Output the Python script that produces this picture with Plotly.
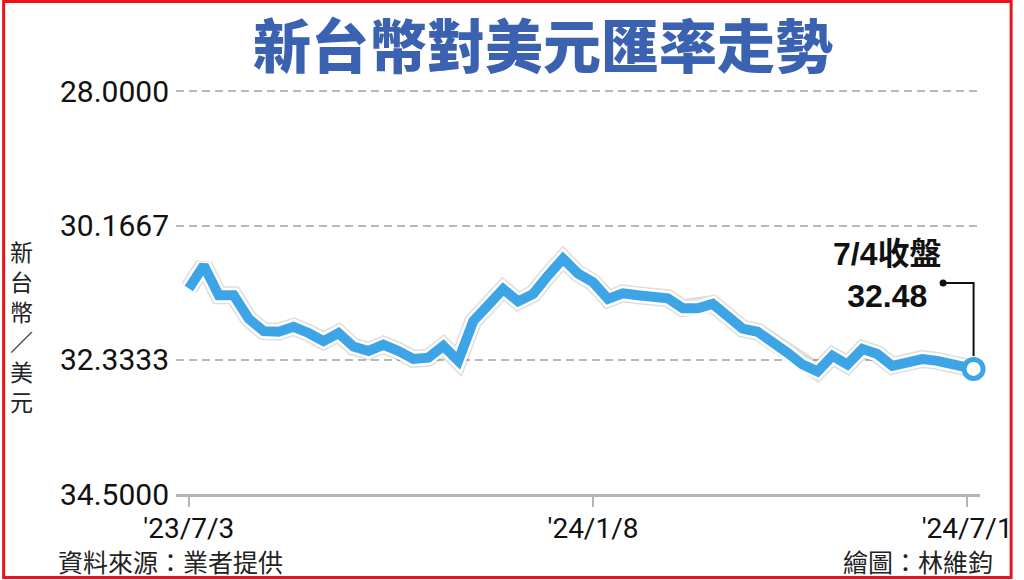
import pandas as pd
import plotly.graph_objects as go

# weekly closes, NT$ per US$
dates = pd.date_range('2023-07-03', '2024-07-01', freq='7D').strftime('%Y-%m-%d').tolist() + ['2024-07-04']
rates = [31.18, 30.81, 31.29, 31.29, 31.67, 31.87, 31.88, 31.80, 31.90, 32.03,
         31.90, 32.12, 32.19, 32.09, 32.19, 32.32, 32.30, 32.11, 32.35, 31.71,
         31.45, 31.19, 31.39, 31.27, 30.97, 30.70, 30.94, 31.08, 31.35, 31.26,
         31.29, 31.31, 31.34, 31.50, 31.50, 31.43, 31.63, 31.83, 31.88, 32.03,
         32.22, 32.41, 32.52, 32.27, 32.41, 32.16, 32.24, 32.43, 32.36, 32.32,
         32.35, 32.40, 32.45, 32.48]

y_ticks = [28.0, 30.1667, 32.3333, 34.5]
y_labels = ['28.0000', '30.1667', '32.3333', '34.5000']
x_ticks = ['2023-07-03', '2024-01-08', '2024-07-01']
x_labels = ["'23/7/3", "'24/1/8", "'24/7/1"]

title = '新台幣對美元匯率走勢'
y_title = '新台幣／美元'
end_label = '7/4收盤'
source = '資料來源：業者提供'
credit = '繪圖：林維鈞'

BLUE = '#3da5e6'
CJK = 'Noto Sans CJK TC'

W, H = 1024, 580
L, R, T, B = 176, 34, 89, 86
PW = W - L - R
PH = H - T - B


def px_x(p):
    return (p - L) / PW


def px_y(p):
    return (H - B - p) / PH


def note(x, y, text, size, xanchor='center', **font):
    fig.add_annotation(x=px_x(x), y=px_y(y), xref='paper', yref='paper', showarrow=False,
                       xanchor=xanchor, yanchor='middle', text=text,
                       font=dict(family=CJK, size=size, color=font.pop('color', '#222'), **font))


fig = go.Figure()
# soft shadow + white halo under the line
fig.add_trace(go.Scatter(x=dates, y=rates, mode='lines', hoverinfo='skip',
                         line=dict(color='rgba(0,0,0,0.13)', width=18)))
fig.add_trace(go.Scatter(x=dates, y=rates, mode='lines', hoverinfo='skip',
                         line=dict(color='white', width=15)))
fig.add_trace(go.Scatter(x=dates, y=rates, mode='lines',
                         line=dict(color=BLUE, width=10)))
fig.add_trace(go.Scatter(x=dates[-1:], y=rates[-1:], mode='markers', cliponaxis=False,
                         marker=dict(size=19, color='white', line=dict(color=BLUE, width=5))))

fig.update_xaxes(type='date', range=['2023-06-27 00:00', '2024-07-07 00:00'],
                 tickvals=x_ticks, ticktext=x_labels, showgrid=False, zeroline=False,
                 showline=True, linecolor='#b5b5b5', linewidth=3,
                 ticks='outside', ticklen=10, tickwidth=2, tickcolor='#b5b5b5',
                 ticklabelstandoff=-3,
                 tickfont=dict(family='Roboto', size=28, color='#111'))
fig.update_yaxes(range=[34.5, 27.96], tickvals=y_ticks, ticktext=y_labels,
                 showgrid=True, gridcolor='#b8b8b8', gridwidth=2, griddash='8px,5px',
                 zeroline=False, showline=False, ticks='', ticklabelstandoff=6,
                 tickfont=dict(family='Roboto', size=30, color='#111'))

note(548, 43, title, 58, color='#3a62b0', weight=900)
note(20, 326, '<br>'.join(y_title), 23)
note(55, 561, source, 25, xanchor='left')
note(1005, 561, credit, 25, xanchor='right')
fig.add_annotation(x=dates[-1], y=rates[-1], showarrow=False, xanchor='center', yanchor='middle',
                   xshift=-86, yshift=94,
                   text=f'{end_label}<br>{rates[-1]:.2f}',
                   font=dict(family='Liberation Sans, ' + CJK, size=32, color='#111', weight='bold'))

# elbow leader from the label to the closing marker
fig.add_shape(type='path', xref='x', yref='y', xsizemode='pixel', ysizemode='pixel',
              xanchor=dates[-1], yanchor=rates[-1], path='M -30,86 L 0,86 L 0,13',
              line=dict(color='#111', width=2))
fig.add_shape(type='circle', xref='x', yref='y', xsizemode='pixel', ysizemode='pixel',
              xanchor=dates[-1], yanchor=rates[-1], x0=-34, x1=-27, y0=82.5, y1=89.5,
              fillcolor='#111', line=dict(width=0))
# red frame
fig.add_shape(type='rect', xref='paper', yref='paper', x0=px_x(1.5), x1=px_x(1021.5),
              y0=px_y(577.5), y1=px_y(1.5), line=dict(color='#e8141b', width=3))

fig.update_layout(width=W, height=H, margin=dict(l=L, r=R, t=T, b=B),
                  plot_bgcolor='white', paper_bgcolor='white', showlegend=False)

fig.write_html('out.html', config={'displayModeBar': False, 'responsive': False},
               post_script="document.body.style.margin='0';"
                           "document.body.style.overflow='hidden';"
                           "document.documentElement.style.overflow='hidden';")
